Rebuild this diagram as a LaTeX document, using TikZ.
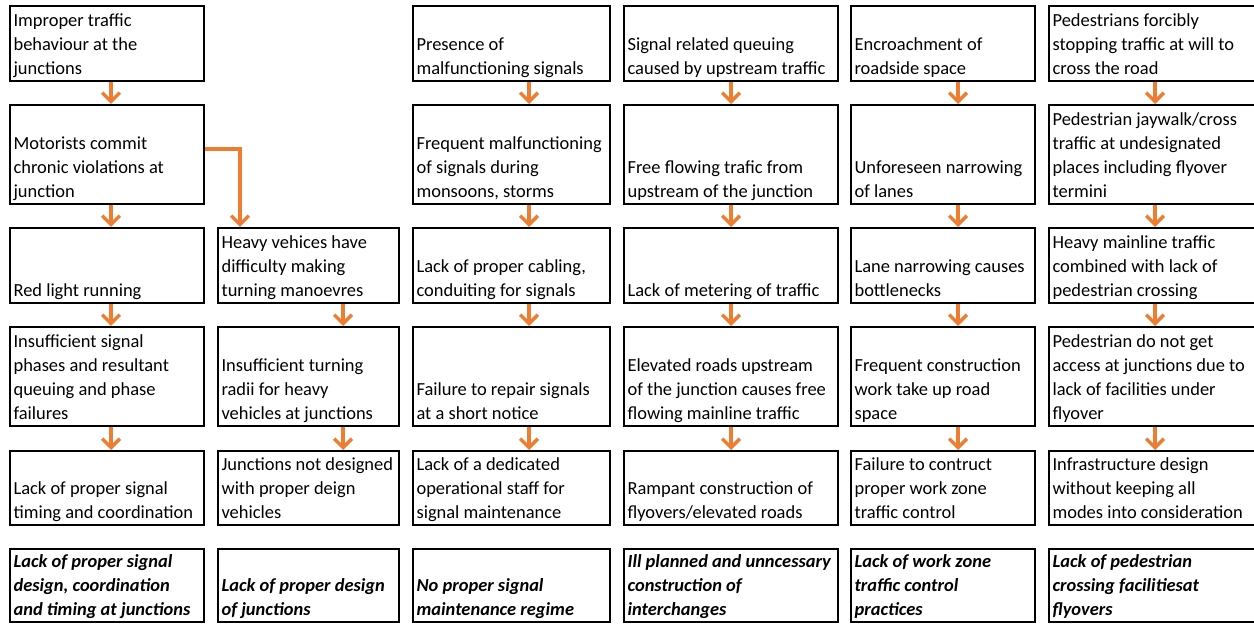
\documentclass[tikz,border=0pt]{standalone}
\usepackage{fontspec}
\setmainfont{Carlito}
\usetikzlibrary{arrows.meta}
\definecolor{floworange}{HTML}{ED7D31}

\begin{document}
\begin{tikzpicture}[x=0.02cm, y=-0.02cm,
  cell/.style 2 args={draw, line width=1.4pt, anchor=north west, inner sep=0pt,
    minimum width=#1, minimum height=#2},
  note/.style={anchor=south west, align=left, inner xsep=2.4pt, inner ysep=0pt,
    text depth=4.2pt, font=\fontsize{10.5pt}{13.66pt}\selectfont},
  goal/.style={note, font=\fontsize{10.5pt}{13.66pt}\selectfont\bfseries\itshape},
  flow/.style={draw=floworange, line width=2pt, -{Straight Barb[length=5pt,width=10pt]}}]

\useasboundingbox (0,0) rectangle (1254,624);
\clip (0,0) rectangle (1254,624);

% row 1
\node[cell={3.88cm}{1.5cm}, label={[note]south west:Improper traffic\\behaviour at the\\junctions}] (r1c1) at (9,5) {};
\node[cell={3.94cm}{1.5cm}, label={[note]south west:Presence of\\malfunctioning signals}] (r1c3) at (412,5) {};
\node[cell={4.28cm}{1.5cm}, label={[note]south west:Signal related queuing\\caused by upstream traffic}] (r1c4) at (623,5) {};
\node[cell={3.68cm}{1.5cm}, label={[note]south west:Encroachment of\\roadside space}] (r1c5) at (850,5) {};
\node[cell={4.4cm}{1.5cm}, label={[note]south west:Pedestrians forcibly\\stopping traffic at will to\\cross the road}] (r1c6) at (1048,5) {};

% row 2
\node[cell={3.88cm}{1.98cm}, label={[note]south west:Motorists commit\\chronic violations at\\junction}] (r2c1) at (9,104) {};
\node[cell={3.94cm}{1.98cm}, label={[note]south west:Frequent malfunctioning\\of signals during\\monsoons, storms}] (r2c3) at (412,104) {};
\node[cell={4.28cm}{1.98cm}, label={[note]south west:Free flowing trafic from\\upstream of the junction}] (r2c4) at (623,104) {};
\node[cell={3.68cm}{1.98cm}, label={[note]south west:Unforeseen narrowing\\of lanes}] (r2c5) at (850,104) {};
\node[cell={4.4cm}{1.98cm}, label={[note]south west:Pedestrian jaywalk/cross\\traffic at undesignated\\places including flyover\\termini}] (r2c6) at (1048,104) {};

% row 3
\node[cell={3.88cm}{1.5cm}, label={[note]south west:Red light running}] (r3c1) at (9,227) {};
\node[cell={3.62cm}{1.5cm}, label={[note]south west:Heavy vehices have\\difficulty making\\turning manoevres}] (r3c2) at (217,227) {};
\node[cell={3.94cm}{1.5cm}, label={[note]south west:Lack of proper cabling,\\conduiting for signals}] (r3c3) at (412,227) {};
\node[cell={4.28cm}{1.5cm}, label={[note]south west:Lack of metering of traffic}] (r3c4) at (623,227) {};
\node[cell={3.68cm}{1.5cm}, label={[note]south west:Lane narrowing causes\\bottlenecks}] (r3c5) at (850,227) {};
\node[cell={4.4cm}{1.5cm}, label={[note]south west:Heavy mainline traffic\\combined with lack of\\pedestrian crossing}] (r3c6) at (1048,227) {};

% row 4
\node[cell={3.88cm}{1.98cm}, label={[note]south west:Insufficient signal\\phases and resultant\\queuing and phase\\failures}] (r4c1) at (9,326) {};
\node[cell={3.62cm}{1.98cm}, label={[note]south west:Insufficient turning\\radii for heavy\\vehicles at junctions}] (r4c2) at (217,326) {};
\node[cell={3.94cm}{1.98cm}, label={[note]south west:Failure to repair signals\\at a short notice}] (r4c3) at (412,326) {};
\node[cell={4.28cm}{1.98cm}, label={[note]south west:Elevated roads upstream\\of the junction causes free\\flowing mainline traffic}] (r4c4) at (623,326) {};
\node[cell={3.68cm}{1.98cm}, label={[note]south west:Frequent construction\\work take up road\\space}] (r4c5) at (850,326) {};
\node[cell={4.4cm}{1.98cm}, label={[note]south west:Pedestrian do not get\\access at junctions due to\\lack of facilities under\\flyover}] (r4c6) at (1048,326) {};

% row 5
\node[cell={3.88cm}{1.48cm}, label={[note]south west:Lack of proper signal\\timing and coordination}] (r5c1) at (9,450) {};
\node[cell={3.62cm}{1.48cm}, label={[note]south west:Junctions not designed\\with proper deign\\vehicles}] (r5c2) at (217,450) {};
\node[cell={3.94cm}{1.48cm}, label={[note]south west:Lack of a dedicated\\operational staff for\\signal maintenance}] (r5c3) at (412,450) {};
\node[cell={4.28cm}{1.48cm}, label={[note]south west:Rampant construction of\\flyovers/elevated roads}] (r5c4) at (623,450) {};
\node[cell={3.68cm}{1.48cm}, label={[note]south west:Failure to contruct\\proper work zone\\traffic control}] (r5c5) at (850,450) {};
\node[cell={4.4cm}{1.48cm}, label={[note]south west:Infrastructure design\\without keeping all\\modes into consideration}] (r5c6) at (1048,450) {};

% row 6
\node[cell={3.88cm}{1.46cm}, label={[goal]south west:Lack of proper signal\\design, coordination\\and timing at junctions}] (r6c1) at (9,548) {};
\node[cell={3.62cm}{1.46cm}, label={[goal]south west:Lack of proper design\\of junctions}] (r6c2) at (217,548) {};
\node[cell={3.94cm}{1.46cm}, label={[goal]south west:No proper signal\\maintenance regime}] (r6c3) at (412,548) {};
\node[cell={4.28cm}{1.46cm}, label={[goal]south west:Ill planned and unncessary\\construction of\\interchanges}] (r6c4) at (623,548) {};
\node[cell={3.68cm}{1.46cm}, label={[goal]south west:Lack of work zone\\traffic control\\practices}] (r6c5) at (850,548) {};
\node[cell={4.4cm}{1.46cm}, label={[goal]south west:Lack of pedestrian\\crossing facilitiesat\\flyovers}] (r6c6) at (1048,548) {};

% arrow columns
\coordinate (ax1) at (111,0);
\coordinate (ax2) at (343,0);
\coordinate (ax3) at (529,0);
\coordinate (ax4) at (731,0);
\coordinate (ax5) at (958,0);
\coordinate (ax6) at (1155,0);
\coordinate (ey) at (0,149);
\coordinate (ex) at (240,0);

\draw[flow] (r1c1.south -| ax1) -- (r2c1.north -| ax1);
\draw[flow] (r2c1.south -| ax1) -- (r3c1.north -| ax1);
\draw[flow] (r3c1.south -| ax1) -- (r4c1.north -| ax1);
\draw[flow] (r4c1.south -| ax1) -- (r5c1.north -| ax1);

\draw[flow] (r2c1.east |- ey) -| (r3c2.north -| ex);
\draw[flow] (r3c2.south -| ax2) -- (r4c2.north -| ax2);
\draw[flow] (r4c2.south -| ax2) -- (r5c2.north -| ax2);

\draw[flow] (r1c3.south -| ax3) -- (r2c3.north -| ax3);
\draw[flow] (r2c3.south -| ax3) -- (r3c3.north -| ax3);
\draw[flow] (r3c3.south -| ax3) -- (r4c3.north -| ax3);
\draw[flow] (r4c3.south -| ax3) -- (r5c3.north -| ax3);

\draw[flow] (r1c4.south -| ax4) -- (r2c4.north -| ax4);
\draw[flow] (r2c4.south -| ax4) -- (r3c4.north -| ax4);
\draw[flow] (r3c4.south -| ax4) -- (r4c4.north -| ax4);
\draw[flow] (r4c4.south -| ax4) -- (r5c4.north -| ax4);

\draw[flow] (r1c5.south -| ax5) -- (r2c5.north -| ax5);
\draw[flow] (r2c5.south -| ax5) -- (r3c5.north -| ax5);
\draw[flow] (r3c5.south -| ax5) -- (r4c5.north -| ax5);
\draw[flow] (r4c5.south -| ax5) -- (r5c5.north -| ax5);

\draw[flow] (r1c6.south -| ax6) -- (r2c6.north -| ax6);
\draw[flow] (r2c6.south -| ax6) -- (r3c6.north -| ax6);
\draw[flow] (r3c6.south -| ax6) -- (r4c6.north -| ax6);
\draw[flow] (r4c6.south -| ax6) -- (r5c6.north -| ax6);

\end{tikzpicture}
\end{document}
